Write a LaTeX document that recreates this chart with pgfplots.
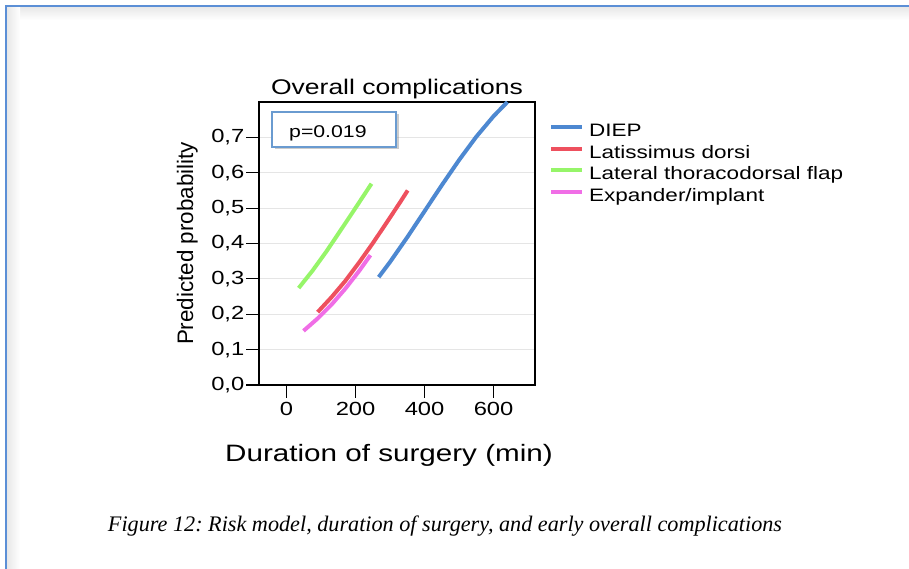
\documentclass[border=0pt]{standalone}
\usepackage{fontspec}
\setmainfont{Liberation Sans}[FakeStretch=1.25]
\newfontfamily\plainsans{Liberation Sans}
\newfontfamily\capfont{Liberation Serif}
\usepackage{pgfplots}
\pgfplotsset{compat=1.18}
\usetikzlibrary{shadows}
\definecolor{cdiep}{RGB}{77,136,209}
\definecolor{clat}{RGB}{238,80,94}
\definecolor{cltf}{RGB}{150,245,105}
\definecolor{cexp}{RGB}{240,110,230}
\definecolor{pageblue}{RGB}{91,143,214}
\definecolor{boxblue}{RGB}{106,155,208}
\frenchspacing
\begin{document}
\begin{tikzpicture}[x=1pt,y=1pt]
\path[use as bounding box] (0,0) rectangle (909,569);
\shade[top color=black!9, bottom color=white] (7,549) rectangle (909,562);
\shade[left color=black!9, right color=white] (7,0) rectangle (20,562);
\draw[pageblue, line width=1.5pt] (6,0) -- (6,563) -- (909,563);
\begin{axis}[
  at={(259pt,184pt)}, anchor=south west,
  width=276pt, height=283pt, scale only axis,
  xmin=-80, xmax=720, ymin=0, ymax=0.8,
  xtick={0,200,400,600},
  ytick={0,0.1,0.2,0.3,0.4,0.5,0.6,0.7},
  tick align=outside, major tick length=13pt,
  xtick pos=bottom, ytick pos=left,
  tick style={black, line width=1.2pt},
  axis line style={line width=1.3pt, black},
  ymajorgrids, major grid style={color=black!10, line width=1pt},
  /pgf/number format/assume math mode=true,
  yticklabel style={font=\fontsize{19}{22}\selectfont, inner sep=1.5pt,
    /pgf/number format/.cd, fixed, zerofill, precision=1, use comma},
  xticklabel style={font=\fontsize{19}{22}\selectfont, inner sep=4pt},
  title={Overall complications},
  title style={font=\fontsize{21.2}{25}\selectfont, at={(axis description cs:0.5,1.007)}, anchor=base, inner sep=0pt},
  xlabel={Duration of surgery (min)},
  xlabel style={font=\fontsize{23.7}{28}\selectfont, at={(axis description cs:0.471,-0.272)}, anchor=base, inner sep=0pt},
  ylabel={Predicted probability},
  ylabel style={font=\plainsans\fontsize{22.4}{26}\selectfont, at={(axis description cs:-0.239,0.5)}, anchor=base, inner sep=0pt},
  legend style={at={(axis description cs:1,1)}, anchor=north west, xshift=14pt, yshift=-21.5pt,
    draw=none, fill=none, inner sep=0pt, row sep=4.5pt,
    font=\fontsize{18}{21.6}\selectfont,
    nodes={inner sep=0pt, text height=13pt, text depth=4pt}},
  legend cell align=left,
  legend image code/.code={\draw[#1, line width=4pt] (0pt,5pt) -- (31pt,5pt); \path (36pt,0pt);},
  every axis plot/.append style={line width=4pt, no markers},
]
\addplot[cdiep] coordinates {(267,0.305) (300,0.348) (350,0.418) (400,0.4915) (450,0.565) (500,0.636) (550,0.702) (600,0.760) (640,0.800)};
\addlegendentry{DIEP}
\addplot[clat] coordinates {(90,0.206) (130,0.248) (170,0.294) (210,0.346) (250,0.401) (290,0.459) (330,0.518) (351,0.550)};
\addlegendentry{Latissimus dorsi}
\addplot[cltf] coordinates {(35,0.274) (75,0.323) (115,0.377) (155,0.435) (195,0.4935) (246,0.569)};
\addlegendentry{Lateral thoracodorsal flap}
\addplot[cexp] coordinates {(49,0.153) (90,0.188) (130,0.227) (170,0.272) (210,0.322) (243,0.367)};
\addlegendentry{Expander/implant}
\draw[boxblue, line width=1.5pt, fill=white, drop shadow={shadow xshift=2.5pt, shadow yshift=-2.5pt, opacity=0.4}]
  (rel axis cs:0.0471,0.9647) rectangle (rel axis cs:0.4964,0.841);
\node[anchor=base west, inner sep=0pt, font=\fontsize{17}{20}\selectfont] at (rel axis cs:0.1087,0.876) {p=0.019};
\end{axis}
\node[font=\capfont\itshape\fontsize{22.2}{26}\selectfont, anchor=base] at (445,37) {Figure 12: Risk model, duration of surgery, and early overall complications};
\end{tikzpicture}
\end{document}
